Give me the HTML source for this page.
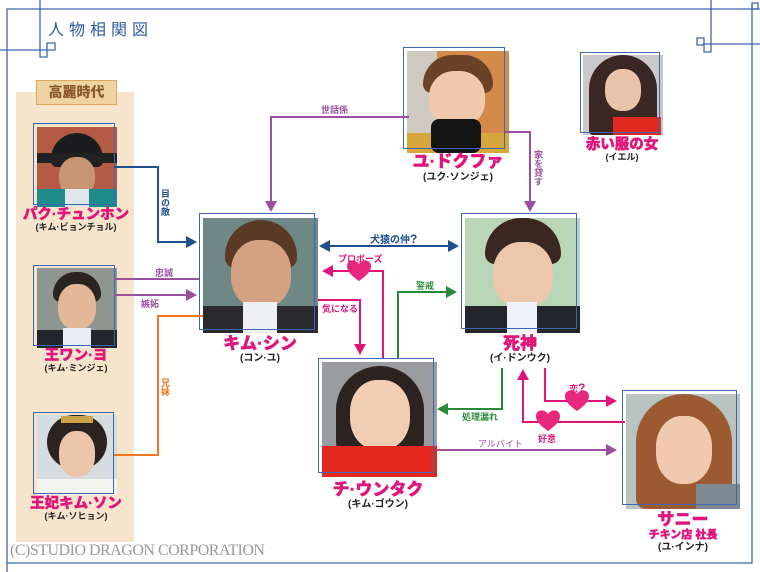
<!DOCTYPE html>
<html><head><meta charset="utf-8">
<style>
*{margin:0;padding:0;box-sizing:border-box}
body{width:760px;height:572px;background:#fff;position:relative;overflow:hidden;font-family:"Liberation Sans","Noto Sans CJK JP",sans-serif}
.abs{position:absolute}
.name{position:absolute;color:#e0157a;font-weight:900;font-size:14.5px;text-align:center;white-space:nowrap;line-height:14px;transform:translateX(-50%);-webkit-text-stroke:0.4px #e0157a}
.sub{position:absolute;color:#222;font-weight:700;font-size:9px;text-align:center;white-space:nowrap;line-height:10px;transform:translateX(-50%)}
.lbl{position:absolute;font-weight:700;font-size:9px;white-space:nowrap;line-height:10px}
.vl{writing-mode:vertical-rl;letter-spacing:0}
.ph{position:absolute;overflow:hidden}
.ph div{position:absolute}
.fr{position:absolute;border:1.3px solid #3d67b0}
</style></head><body>

<div class="abs" style="left:16px;top:92px;width:118px;height:450px;background:#f6e5cc"></div>
<div class="abs" style="left:36px;top:80px;width:81px;height:25px;background:#f0d3a3;border:1.5px solid #dba864;color:#8a5a2a;font-weight:900;font-size:14px;text-align:center;line-height:22px">高麗時代</div>

<div class="ph" style="left:37px;top:127px;width:80px;height:80px;background:#b55a45">
 <div style="left:14px;top:6px;width:52px;height:34px;border-radius:26px 26px 6px 6px;background:#1c1c1e"></div>
 <div style="left:-4px;top:26px;width:88px;height:10px;background:#222;border-radius:5px"></div>
 <div style="left:22px;top:30px;width:36px;height:40px;border-radius:45%;background:#c89574"></div>
 <div style="left:0;top:62px;width:80px;height:20px;background:#1d8c8a"></div>
 <div style="left:28px;top:62px;width:24px;height:18px;background:#dfe6ee"></div>
</div>
<div class="ph" style="left:37px;top:268px;width:80px;height:80px;background:#8f9590">
 <div style="left:16px;top:4px;width:48px;height:30px;border-radius:24px 24px 8px 8px;background:#2b2420"></div>
 <div style="left:21px;top:16px;width:38px;height:46px;border-radius:45%;background:#e2b899"></div>
 <div style="left:0;top:62px;width:80px;height:20px;background:#22262a"></div>
 <div style="left:26px;top:60px;width:28px;height:20px;background:#e8eef4"></div>
</div>
<div class="ph" style="left:37px;top:415px;width:80px;height:80px;background:#d7dce0">
 <div style="left:10px;top:0;width:60px;height:54px;border-radius:30px;background:#2b231f"></div>
 <div style="left:24px;top:1px;width:32px;height:7px;background:#c9a24a"></div>
 <div style="left:22px;top:16px;width:36px;height:46px;border-radius:45%;background:#ecc6ac"></div>
 <div style="left:0;top:64px;width:80px;height:18px;background:#f3f3f0"></div>
</div>
<div class="ph" style="left:203px;top:218px;width:115px;height:115px;background:#6f8886">
 <div style="left:22px;top:2px;width:72px;height:48px;border-radius:36px 36px 10px 10px;background:#5a3a26"></div>
 <div style="left:28px;top:22px;width:60px;height:68px;border-radius:45%;background:#d4a283"></div>
 <div style="left:0;top:88px;width:115px;height:30px;background:#2a2a2e"></div>
 <div style="left:40px;top:84px;width:34px;height:32px;background:#eef0f4"></div>
</div>
<div class="ph" style="left:407px;top:51px;width:102px;height:102px;background:#d38a4a">
 <div style="left:0;top:0;width:30px;height:102px;background:#cfcac0"></div>
 <div style="left:16px;top:4px;width:70px;height:38px;border-radius:34px 34px 10px 10px;background:#6a4228"></div>
 <div style="left:22px;top:20px;width:56px;height:56px;border-radius:45%;background:#f0c8ad"></div>
 <div style="left:0;top:82px;width:102px;height:22px;background:#d6a83c"></div>
 <div style="left:24px;top:68px;width:50px;height:34px;background:#151515;border-radius:8px"></div>
</div>
<div class="ph" style="left:583px;top:55px;width:80px;height:80px;background:#c9c9cc">
 <div style="left:6px;top:0;width:68px;height:80px;border-radius:34px 34px 4px 4px;background:#3a2622"></div>
 <div style="left:22px;top:14px;width:36px;height:42px;border-radius:45%;background:#eac3ad"></div>
 <div style="left:30px;top:62px;width:48px;height:20px;background:#e02a20"></div>
</div>
<div class="ph" style="left:465px;top:218px;width:115px;height:115px;background:#b9d7b6">
 <div style="left:20px;top:0;width:76px;height:46px;border-radius:36px 36px 10px 10px;background:#3a2820"></div>
 <div style="left:28px;top:24px;width:60px;height:66px;border-radius:45%;background:#ecc6ad"></div>
 <div style="left:0;top:88px;width:115px;height:30px;background:#22262b"></div>
 <div style="left:42px;top:84px;width:30px;height:32px;background:#eef2f6"></div>
</div>
<div class="ph" style="left:322px;top:362px;width:115px;height:115px;background:#9a9ca0">
 <div style="left:14px;top:4px;width:88px;height:96px;border-radius:44px 44px 20px 20px;background:#2c2220"></div>
 <div style="left:28px;top:18px;width:60px;height:70px;border-radius:45%;background:#f1cdb4"></div>
 <div style="left:0;top:84px;width:115px;height:32px;background:#e2281e"></div>
</div>
<div class="ph" style="left:626px;top:394px;width:114px;height:115px;background:#b9c3c0">
 <div style="left:10px;top:0;width:96px;height:115px;border-radius:48px 48px 10px 10px;background:#9c5a32"></div>
 <div style="left:30px;top:22px;width:56px;height:68px;border-radius:45%;background:#f0c9ae"></div>
 <div style="left:70px;top:90px;width:44px;height:25px;background:#7d8a94"></div>
</div>

<div class="fr" style="left:33px;top:123px;width:82px;height:82px"></div>
<div class="fr" style="left:33px;top:265px;width:82px;height:81px"></div>
<div class="fr" style="left:33px;top:412px;width:81px;height:82px"></div>
<div class="fr" style="left:199px;top:213px;width:116px;height:117px"></div>
<div class="fr" style="left:403px;top:47px;width:102px;height:102px"></div>
<div class="fr" style="left:580px;top:52px;width:80px;height:81px"></div>
<div class="fr" style="left:461px;top:213px;width:116px;height:116px"></div>
<div class="fr" style="left:318px;top:358px;width:116px;height:115px"></div>
<div class="fr" style="left:622px;top:390px;width:115px;height:115px"></div>

<svg class="abs" style="left:0;top:0" width="760" height="572" viewBox="0 0 760 572">
 <g fill="none" stroke="#3d67b0" stroke-width="1.3">
  <path d="M7 572 V9 H760"/>
  <path d="M752 3 V563 H7"/>
  <rect x="752" y="3" width="6" height="6"/>
  <path d="M40 0 V57 H47 V50"/>
  <path d="M0 50 H55 V43 H47 V50"/>
  <path d="M711 0 V52 H704 V45 H697 V38 H704 V45"/>
  <path d="M703 44 H760"/>
 </g>
 <g fill="none" stroke-width="2">
  <path d="M409 117 H271 V202" stroke="#9b4fa0"/>
  <path d="M505 132 H530 V202" stroke="#9b4fa0"/>
  <path d="M114 167 H158 V242 H188" stroke="#1f4f8f"/>
  <path d="M328 246 H450" stroke="#1f4f8f"/>
  <path d="M383 358 V271 H330" stroke="#e0157a"/>
  <path d="M114 279 H199" stroke="#9b4fa0"/>
  <path d="M114 295 H188" stroke="#9b4fa0"/>
  <path d="M114 455 H158 V316 H203" stroke="#f07820"/>
  <path d="M318 300 H360 V346" stroke="#e0157a"/>
  <path d="M398 358 V292 H448" stroke="#2a8a3a"/>
  <path d="M502 368 V409 H446" stroke="#2a8a3a"/>
  <path d="M625 422 H523 V378" stroke="#e0157a"/>
  <path d="M545 368 V401 H608" stroke="#e0157a"/>
  <path d="M437 450 H608" stroke="#9b4fa0"/>
 </g>
 <g>
  <path d="M265 201 L277 201 L271 212 Z" fill="#9b4fa0"/>
  <path d="M524 201 L536 201 L530 212 Z" fill="#9b4fa0"/>
  <path d="M186 236 L197 242 L186 248 Z" fill="#1f4f8f"/>
  <path d="M330 240 L319 246 L330 252 Z" fill="#1f4f8f"/>
  <path d="M448 240 L459 246 L448 252 Z" fill="#1f4f8f"/>
  <path d="M333 265 L322 271 L333 277 Z" fill="#e0157a"/>
  <path d="M186 289 L197 295 L186 301 Z" fill="#9b4fa0"/>
  <path d="M354 344 L366 344 L360 355 Z" fill="#e0157a"/>
  <path d="M446 286 L457 292 L446 298 Z" fill="#2a8a3a"/>
  <path d="M448 403 L437 409 L448 415 Z" fill="#2a8a3a"/>
  <path d="M517 380 L529 380 L523 369 Z" fill="#e0157a"/>
  <path d="M606 395 L617 401 L606 407 Z" fill="#e0157a"/>
  <path d="M606 444 L617 450 L606 456 Z" fill="#9b4fa0"/>
 </g>
 <g fill="#e8287e">
  <path d="M359 281 C349 274 347 270 347 266 C347 260 355 258 359 264 C363 258 371 260 371 266 C371 270 369 274 359 281 Z"/>
  <path d="M577 411 C567 404 565 400 565 396 C565 390 573 388 577 394 C581 388 589 390 589 396 C589 400 587 404 577 411 Z"/>
  <path d="M548 431 C538 424 536 420 536 416 C536 410 544 408 548 414 C552 408 560 410 560 416 C560 420 558 424 548 431 Z"/>
 </g>
</svg>

<div class="abs" style="left:48px;top:19px;color:#2a5aa0;font-size:16px;letter-spacing:5px;line-height:18px;font-family:'Noto Sans CJK JP',sans-serif">人物相関図</div>

<div class="name" style="left:76px;top:208px">パク·チュンホン</div>
<div class="sub" style="left:76px;top:222px">(キム·ビョンチョル)</div>
<div class="name" style="left:76px;top:349px">王ワン·ヨ</div>
<div class="sub" style="left:76px;top:363px">(キム·ミンジェ)</div>
<div class="name" style="left:76px;top:497px">王妃キム·ソン</div>
<div class="sub" style="left:76px;top:511px">(キム·ソヒョン)</div>
<div class="name" style="left:260px;top:336px;font-size:17px;line-height:16px">キム·シン</div>
<div class="sub" style="left:260px;top:354px;font-size:10px">(コン·ユ)</div>
<div class="name" style="left:458px;top:154px;font-size:17px;line-height:16px">ユ·ドクファ</div>
<div class="sub" style="left:458px;top:173px;font-size:10px">(ユク·ソンジェ)</div>
<div class="name" style="left:622px;top:138px">赤い服の女</div>
<div class="sub" style="left:622px;top:152px">(イエル)</div>
<div class="name" style="left:520px;top:336px;font-size:17px;line-height:16px">死神</div>
<div class="sub" style="left:520px;top:354px;font-size:10px">(イ·ドンウク)</div>
<div class="name" style="left:378px;top:482px;font-size:17px;line-height:16px">チ·ウンタク</div>
<div class="sub" style="left:378px;top:500px;font-size:10px">(キム·ゴウン)</div>
<div class="name" style="left:683px;top:512px;font-size:17px;line-height:16px">サニー</div>
<div class="name" style="left:683px;top:529px;font-size:11px;line-height:12px">チキン店 社長</div>
<div class="sub" style="left:683px;top:543px;font-size:10px">(ユ·インナ)</div>

<div class="lbl" style="left:321px;top:105px;color:#9b4fa0">世話係</div>
<div class="lbl vl" style="left:533px;top:150px;color:#9b4fa0">家を貸す</div>
<div class="lbl vl" style="left:160px;top:189px;color:#1f4f8f">目の敵</div>
<div class="lbl" style="left:370px;top:234px;color:#1f4f8f;font-size:10px">犬猿の仲<span style="font-size:12px">?</span></div>
<div class="lbl" style="left:338px;top:254px;color:#e0157a">プロポーズ</div>
<div class="lbl" style="left:155px;top:268px;color:#9b4fa0">忠誠</div>
<div class="lbl" style="left:141px;top:299px;color:#9b4fa0">嫉妬</div>
<div class="lbl vl" style="left:160px;top:378px;color:#f07820">兄妹</div>
<div class="lbl" style="left:322px;top:304px;color:#e0157a">気になる</div>
<div class="lbl" style="left:416px;top:281px;color:#2a8a3a">警戒</div>
<div class="lbl" style="left:462px;top:412px;color:#2a8a3a">処理漏れ</div>
<div class="lbl" style="left:538px;top:434px;color:#e0157a">好意</div>
<div class="lbl" style="left:569px;top:383px;color:#e0157a">恋<span style="font-size:12px">?</span></div>
<div class="lbl" style="left:478px;top:439px;color:#9b4fa0;font-weight:400">アルバイト</div>

<div class="abs" style="left:10px;top:543px;color:#999;font-family:'Liberation Serif',serif;font-size:16px;letter-spacing:-0.5px;line-height:16px;white-space:nowrap">(C)STUDIO DRAGON CORPORATION</div>
</body></html>
